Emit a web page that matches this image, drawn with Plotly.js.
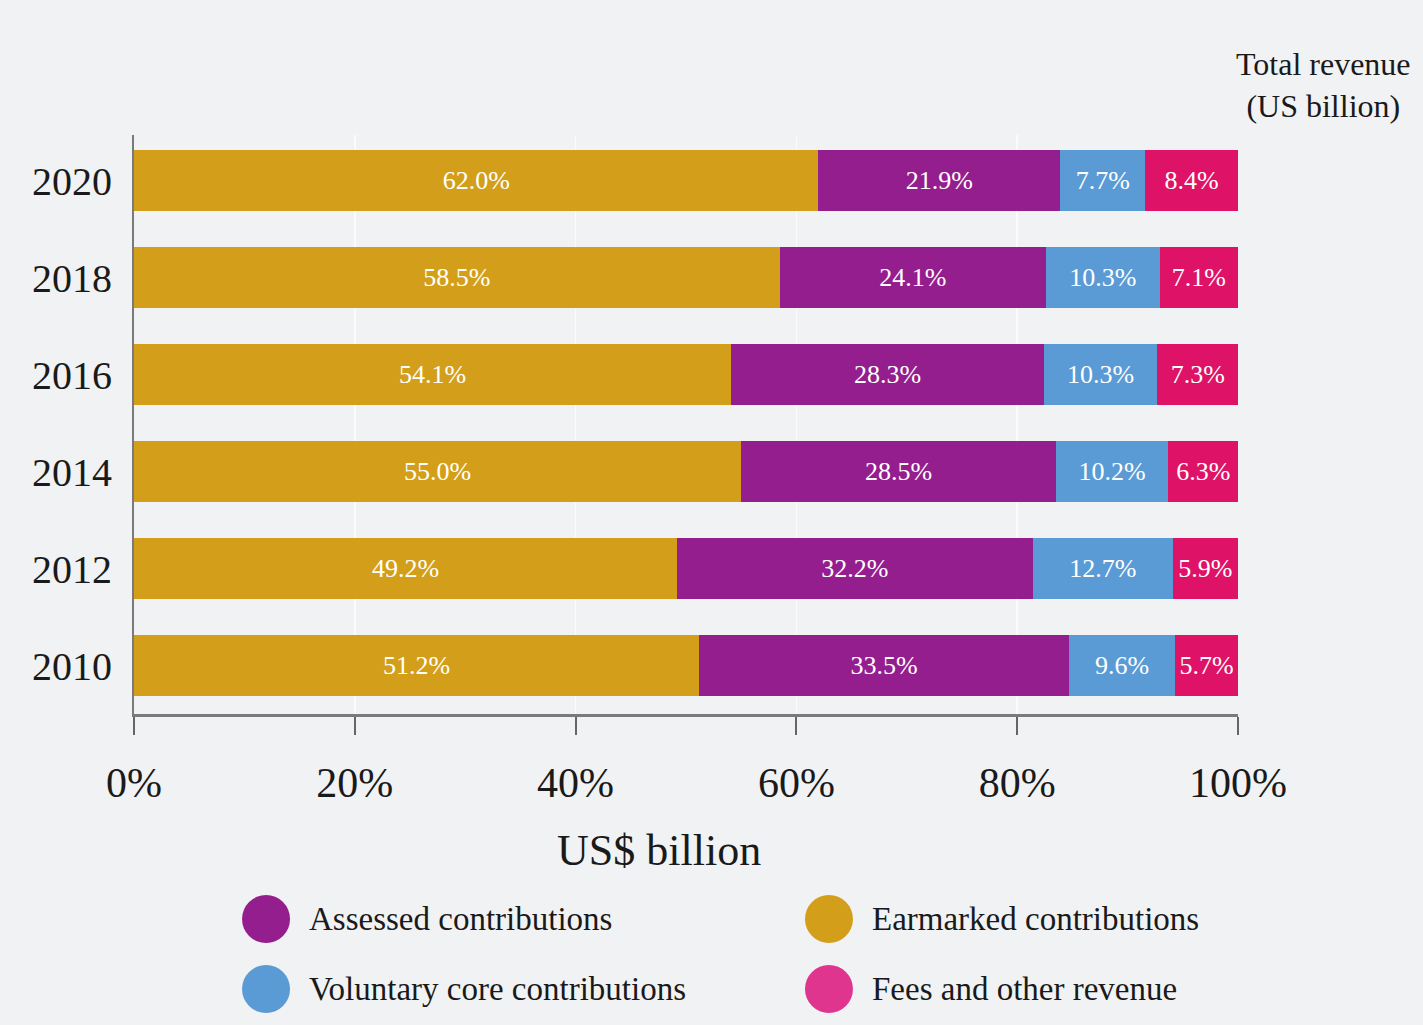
<!DOCTYPE html>
<html>
<head>
<meta charset="utf-8">
<script src="https://cdn.plot.ly/plotly-3.0.1.min.js"></script>
<style>
  html, body { margin: 0; padding: 0; background: #f1f2f4; }
  #chart { width: 1423px; height: 1025px; }
</style>
</head>
<body>
<div id="chart"></div>
<script>
// ---- Data ----
const years = ["2010", "2012", "2014", "2016", "2018", "2020"];
const earmarked = [51.2, 49.2, 55.0, 54.1, 58.5, 62.0];
const assessed  = [33.5, 32.2, 28.5, 28.3, 24.1, 21.9];
const voluntary = [9.6, 12.7, 10.2, 10.3, 10.3, 7.7];
const fees      = [5.7, 5.9, 6.3, 7.3, 7.1, 8.4];
const totals    = ["$39.6 b", "$42.3 b", "$48.1 b", "$49.3 b", "$56.0 b", "$62.6 b"];
const xTickVals = [0, 20, 40, 60, 80, 100];
const xTickText = ["0%", "20%", "40%", "60%", "80%", "100%"];
const seriesNames = ["Earmarked contributions", "Assessed contributions", "Voluntary core contributions", "Fees and other revenue"];
const legendNames = ["Assessed contributions", "Earmarked contributions", "Voluntary core contributions", "Fees and other revenue"];

const colors = {
  "Earmarked contributions": "#d39f1a",
  "Assessed contributions": "#951e8f",
  "Voluntary core contributions": "#5b9bd5",
  "Fees and other revenue": "#de1266"
};
const legendColors = {
  "Earmarked contributions": "#d39f1a",
  "Assessed contributions": "#951e8f",
  "Voluntary core contributions": "#5b9bd5",
  "Fees and other revenue": "#e0358f"
};

const FONT = "Liberation Serif, DejaVu Serif, serif";
const seriesValues = [earmarked, assessed, voluntary, fees];

const traces = seriesNames.map((name, i) => ({
  type: "bar",
  orientation: "h",
  name: name,
  y: years,
  x: seriesValues[i],
  marker: { color: colors[name], line: { width: 0 } },
  texttemplate: "%{x:.1f}%",
  textposition: "inside",
  insidetextanchor: "middle",
  textangle: 0,
  textfont: { color: "#ffffff", size: 26, family: FONT },
  hoverinfo: "skip",
  showlegend: false
}));

const annotations = [];
// totals to right of bars
years.forEach((yr, i) => {
  annotations.push({
    xref: "paper", yref: "y", x: 1, y: yr,
    xanchor: "left", yanchor: "middle", xshift: 13,
    text: totals[i], showarrow: false,
    font: { size: 42, color: "#1a1a1a", family: FONT }
  });
});
// header
annotations.push({
  xref: "paper", yref: "paper", x: 1.077, y: 1.087,
  xanchor: "center", yanchor: "middle",
  text: "Total revenue<br>(US billion)", showarrow: false, align: "center",
  font: { size: 32, color: "#1a1a1a", family: FONT }
});
// x-axis title (slightly left of centre, as in the original)
annotations.push({
  xref: "paper", yref: "paper", x: 0.4755, y: -0.235,
  xanchor: "center", yanchor: "middle",
  text: "US$ billion", showarrow: false,
  font: { size: 44, color: "#1a1a1a", family: FONT }
});

// legend (manual, 2x2 grid)
const legX = [0.1196, 0.6295];
const legY = [-0.354, -0.475];
const shapes = [];
legendNames.forEach((name, i) => {
  const col = i % 2, row = Math.floor(i / 2);
  shapes.push({
    type: "circle", xref: "paper", yref: "paper",
    xsizemode: "pixel", ysizemode: "pixel",
    xanchor: legX[col], yanchor: legY[row],
    x0: -24, x1: 24, y0: -24, y1: 24,
    fillcolor: legendColors[name], line: { width: 0 }
  });
  annotations.push({
    xref: "paper", yref: "paper", x: legX[col] + 0.037, y: legY[row],
    xanchor: "left", yanchor: "middle",
    text: name, showarrow: false,
    font: { size: 33, color: "#1a1a1a", family: FONT }
  });
});

const layout = {
  width: 1423, height: 1025,
  paper_bgcolor: "#f1f2f4",
  plot_bgcolor: "#f1f2f4",
  barmode: "stack",
  bargap: 0.37,
  margin: { l: 134, r: 185, t: 135, b: 311 },
  uniformtext: { mode: "show", minsize: 26 },
  xaxis: {
    range: [0, 100],
    tickvals: xTickVals, ticktext: xTickText,
    showgrid: true, gridcolor: "#fbfbfc", gridwidth: 1.5,
    zeroline: false,
    showline: true, linecolor: "#7a7a7a", linewidth: 3,
    ticks: "outside", ticklen: 18, tickwidth: 2, tickcolor: "#666",
    ticklabelstandoff: 12,
    tickfont: { size: 42, color: "#1a1a1a", family: FONT },
    fixedrange: true
  },
  yaxis: {
    type: "category",
    categoryorder: "array", categoryarray: years,
    range: [-0.5, 5.47],
    showgrid: false, zeroline: false,
    showline: true, linecolor: "#7a7a7a", linewidth: 2,
    ticks: "", ticklabelstandoff: 12,
    tickfont: { size: 40, color: "#1a1a1a", family: FONT },
    fixedrange: true
  },
  annotations: annotations,
  shapes: shapes,
  showlegend: false
};

Plotly.newPlot("chart", traces, layout, { displayModeBar: false, staticPlot: true });
</script>
</body>
</html>
